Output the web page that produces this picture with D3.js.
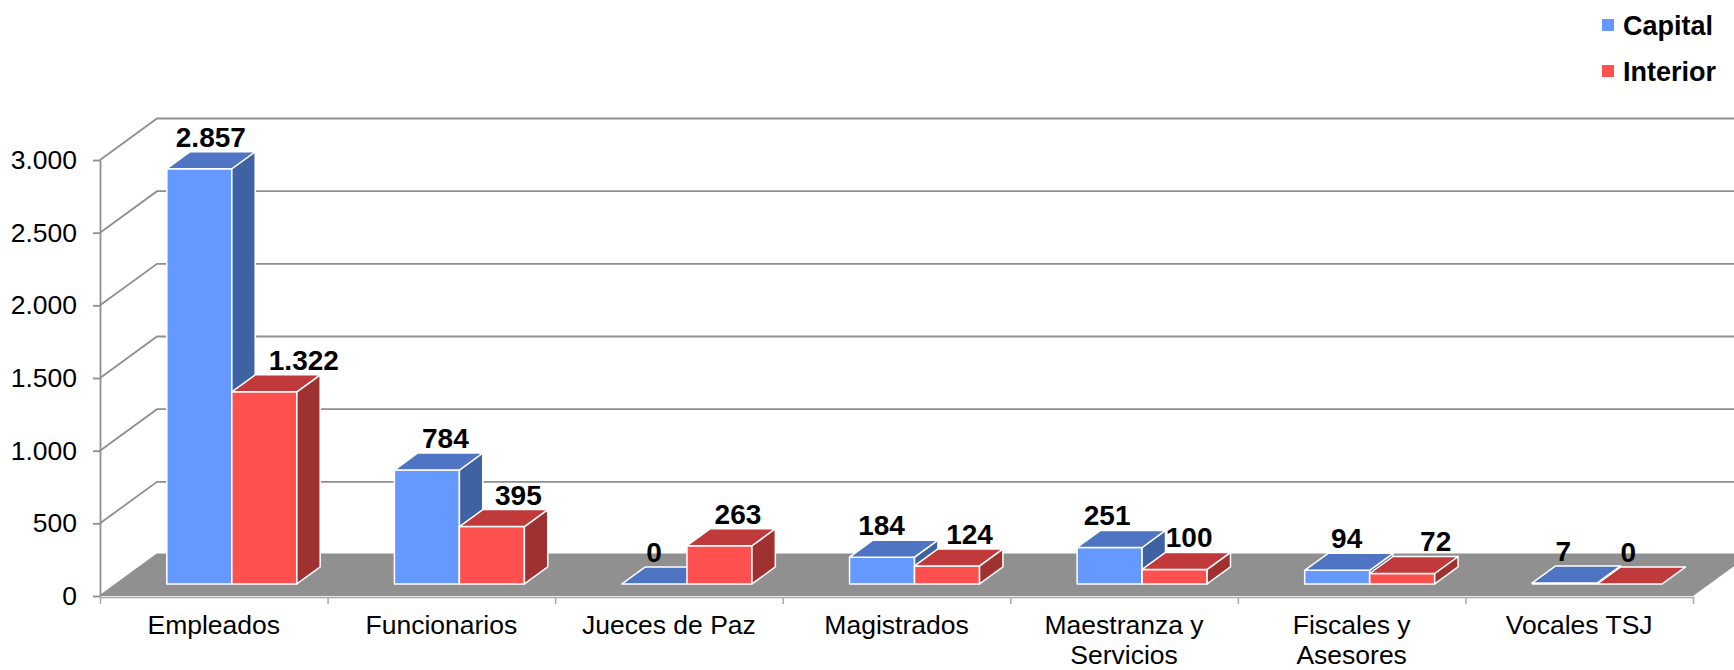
<!DOCTYPE html>
<html>
<head>
<meta charset="utf-8">
<script src="https://cdn.jsdelivr.net/npm/d3@7"></script>
<style>
  body { margin: 0; background: #fff; }
  text { font-family: "Liberation Sans", Arial, sans-serif; }
</style>
</head>
<body>
<svg id="chart" width="1734" height="670"></svg>
<script>
// Data
const categories = ["Empleados", "Funcionarios", "Jueces de Paz", "Magistrados", "Maestranza y\nServicios", "Fiscales y\nAsesores", "Vocales TSJ"];
const seriesNames = ["Capital", "Interior"];
const capital = [2857, 784, 0, 184, 251, 94, 7];
const interior = [1322, 395, 263, 124, 100, 72, 0];
const yTicks = [0, 500, 1000, 1500, 2000, 2500, 3000];

// Label nudges (Excel moves some labels sideways)
const labelShift = [
  [0, 7, -12, -12, -14, -2, -13],
  [28, 15, 7, 11, 3, 22, -13],
];

const colors = [
  { front: "#6699ff", top: "#4f74c4", side: "#3f62a3" },
  { front: "#ff5050", top: "#c0393b", side: "#a03131" },
];

const svg = d3.select("#chart");
const fmt = d3.formatLocale({ decimal: ",", thousands: ".", grouping: [3], currency: ["$", ""] }).format(",d");

// 3D-ish oblique projection
const depth = { dx: 57, dy: -41.5 };
const z0 = 0.29, z1 = 0.70;
const P = (x, y, z) => [x + z * depth.dx, y + z * depth.dy];

const left = 100, right = 1693;
const x = d3.scaleBand().domain(d3.range(categories.length)).range([left, right]).padding(0);
const xs = d3.scaleBand().domain(d3.range(seriesNames.length)).range([50.3, 180.3]).padding(0);
const y = d3.scaleLinear().domain([0, 3000]).range([596, 160]);

const grid = "#8f8f8f";

// Walls gridlines
const g = svg.append("g");
yTicks.forEach((t) => {
  const a = P(left, y(t), 0), b = P(left, y(t), 1), c = P(right, y(t), 1);
  g.append("path")
    .attr("d", d3.line()([a, b, c]))
    .attr("fill", "none")
    .attr("stroke", grid)
    .attr("stroke-width", 1.8);
});

// Floor
svg.append("path")
  .attr("d", d3.line()([P(left, y(0), 0), P(right, y(0), 0), P(right, y(0), 1), P(left, y(0), 1)]) + "Z")
  .attr("fill", "#909090");

// X axis (ticks at category boundaries)
const xb = d3.scaleLinear().domain([0, categories.length]).range([left, right]);
svg.append("g")
  .attr("transform", `translate(0,${y(0) + 1})`)
  .call(d3.axisBottom(xb).tickValues(d3.range(categories.length + 1)).tickSize(7).tickSizeOuter(0).tickFormat(""))
  .call((a) => a.selectAll("path, line").attr("stroke", "#a8a8a8").attr("stroke-width", 1.5));

// Category labels
categories.forEach((c, i) => {
  const t = svg.append("text")
    .attr("x", x(i) + x.bandwidth() / 2)
    .attr("y", 634)
    .attr("text-anchor", "middle")
    .attr("font-size", 26.5)
    .attr("fill", "#000");
  c.split("\n").forEach((line, k) => {
    t.append("tspan").attr("x", x(i) + x.bandwidth() / 2).attr("dy", k === 0 ? 0 : 30).text(line);
  });
});

// Y axis
svg.append("g")
  .attr("transform", `translate(${left},0)`)
  .call(d3.axisLeft(y).tickValues(yTicks).tickSize(7).tickSizeOuter(0).tickPadding(16).tickFormat(fmt))
  .call((a) => a.selectAll("path, line").attr("stroke", grid).attr("stroke-width", 1.8))
  .call((a) => a.selectAll("text").attr("font-size", 26.5).attr("fill", "#000").attr("font-family", "Liberation Sans, Arial, sans-serif"));

// Bars
const series = [capital, interior];
const bars = svg.append("g");
categories.forEach((c, i) => {
  series.forEach((vals, s) => {
    const v = vals[i];
    const x0 = x(i) + xs(s), x1 = x0 + xs.bandwidth();
    const yb = y(0), yt = y(v);
    const col = colors[s];
    const bg = bars.append("g")
      .attr("stroke", "#ffffff")
      .attr("stroke-width", 1.5)
      .attr("stroke-linejoin", "round");
    if (v > 0) {
      // front
      bg.append("path")
        .attr("d", d3.line()([P(x0, yb, z0), P(x1, yb, z0), P(x1, yt, z0), P(x0, yt, z0)]) + "Z")
        .attr("fill", col.front);
      // side
      bg.append("path")
        .attr("d", d3.line()([P(x1, yb, z0), P(x1, yb, z1), P(x1, yt, z1), P(x1, yt, z0)]) + "Z")
        .attr("fill", col.side);
    }
    // top
    bg.append("path")
      .attr("d", d3.line()([P(x0, yt, z0), P(x1, yt, z0), P(x1, yt, z1), P(x0, yt, z1)]) + "Z")
      .attr("fill", col.top);
  });
});

// Value labels
categories.forEach((c, i) => {
  series.forEach((vals, s) => {
    const v = vals[i];
    const x0 = x(i) + xs(s);
    const front = P(x0 + xs.bandwidth() / 2, y(v), z0);
    const back = P(x0, y(v), z1);
    svg.append("text")
      .attr("x", front[0] + 11.5 + labelShift[s][i])
      .attr("y", back[1] - 5)
      .attr("text-anchor", "middle")
      .attr("font-size", 28)
      .attr("font-weight", "bold")
      .attr("fill", "#000")
      .text(fmt(v));
  });
});

// Legend
const legend = svg.append("g").attr("transform", "translate(1602,19)");
seriesNames.forEach((n, s) => {
  legend.append("rect")
    .attr("x", 0)
    .attr("y", s * 46)
    .attr("width", 12)
    .attr("height", 12)
    .attr("fill", colors[s].front);
  legend.append("text")
    .attr("x", 21)
    .attr("y", s * 46 + 15.5)
    .attr("font-size", 27)
    .attr("font-weight", "bold")
    .attr("fill", "#000")
    .text(n);
});
</script>
</body>
</html>
